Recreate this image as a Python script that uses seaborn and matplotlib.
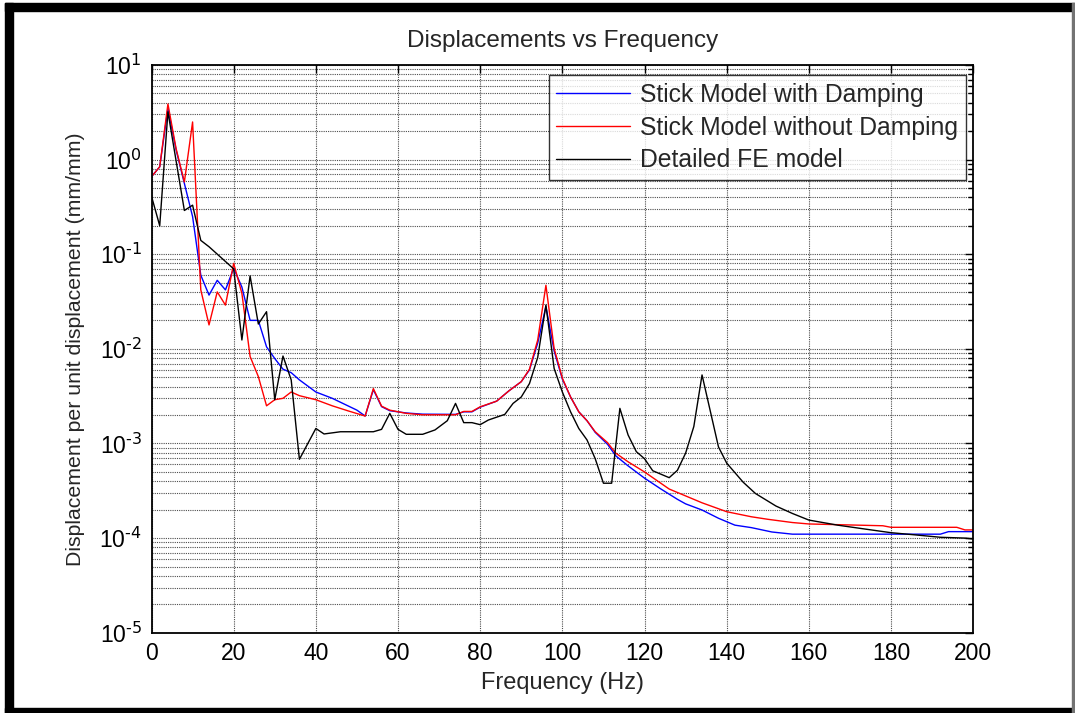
import math
import matplotlib
matplotlib.use("Agg")
import matplotlib.pyplot as plt
from matplotlib.patches import Rectangle
from matplotlib.ticker import FixedLocator, FuncFormatter, NullFormatter
import pandas as pd
import seaborn as sns

# Stick model with damping
freq_damped = [0, 2, 4, 6, 8, 10, 12, 14, 16, 18, 20, 22, 24, 26, 28, 30, 32, 34, 36, 40,
               44, 50, 52, 54, 56, 58, 62, 66, 74, 76, 78, 80, 84, 87, 90, 92, 94, 96, 98, 100,
               102, 104, 106, 108, 111, 113, 116, 120, 124, 128, 130, 134, 138, 142, 146, 151,
               156, 192, 194, 200]
disp_damped = [0.66, 0.84, 3.48, 1.26, 0.56, 0.25, 0.060, 0.037, 0.053, 0.042, 0.071, 0.045,
               0.020, 0.020, 0.0105, 0.0079, 0.0061, 0.0056, 0.0047, 0.0035, 0.0030, 0.00225,
               0.00195, 0.0037, 0.00245, 0.00222, 0.00210, 0.00204, 0.00203, 0.00216, 0.00216,
               0.00242, 0.0028, 0.0036, 0.0045, 0.0060, 0.0115, 0.028, 0.0095, 0.0048, 0.0031,
               0.00216, 0.00174, 0.00131, 0.00098, 0.00074, 0.00058, 0.00043, 0.00033, 0.000257,
               0.00023, 0.000198, 0.000162, 0.000137, 0.000129, 0.000116, 0.00011, 0.00011,
               0.000117, 0.000117]

# Stick model without damping
freq_undamped = [0, 2, 4, 6, 8, 10, 12, 14, 16, 18, 20, 22, 24, 26, 28, 30, 32, 34, 36, 40,
                 44, 48, 52, 54, 56, 58, 62, 66, 74, 76, 78, 80, 84, 87, 90, 92, 94, 96, 98, 100,
                 102, 104, 106, 108, 111, 113, 116, 120, 126, 134, 140, 146, 150, 156, 160, 178,
                 180, 196, 198, 200]
disp_undamped = [0.66, 0.84, 3.87, 1.3, 0.58, 2.5, 0.042, 0.0179, 0.040, 0.029, 0.080, 0.0386,
                 0.0083, 0.0051, 0.0025, 0.0029, 0.0030, 0.0035, 0.0032, 0.0029, 0.0025, 0.0022,
                 0.00195, 0.0038, 0.00248, 0.00225, 0.00208, 0.00201, 0.00201, 0.00218, 0.00218,
                 0.00244, 0.0028, 0.0036, 0.0045, 0.0061, 0.0124, 0.047, 0.0101, 0.0049, 0.0031,
                 0.00216, 0.00174, 0.00133, 0.00102, 0.00079, 0.00064, 0.0005, 0.00033, 0.000236,
                 0.00019, 0.000168, 0.000158, 0.000146, 0.000141, 0.000135, 0.00013, 0.00013,
                 0.000122, 0.000122]

# Detailed finite element model
freq_fe = [0, 2, 4, 8, 10, 12, 14, 20, 22, 24, 26, 28, 30, 32, 34, 36, 40, 42, 46, 54, 56, 58,
           60, 62, 66, 69, 72, 74, 76, 78, 80, 82, 86, 88, 90, 92, 94, 96, 98, 100, 102, 104, 106,
           108, 110, 112, 114, 116, 118, 120, 122, 126, 128, 130, 132, 134, 138, 140, 144, 147,
           152, 156, 160, 167, 174, 180, 186, 192, 198, 200]
disp_fe = [0.41, 0.20, 3.2, 0.29, 0.33, 0.14, 0.12, 0.070, 0.0124, 0.059, 0.0183, 0.0247, 0.0029,
           0.0084, 0.0047, 0.00068, 0.00144, 0.00126, 0.00133, 0.00133, 0.00141, 0.00208, 0.00141,
           0.00125, 0.00125, 0.00139, 0.00174, 0.00265, 0.00166, 0.00166, 0.00158, 0.00177,
           0.00203, 0.00265, 0.0031, 0.0043, 0.0081, 0.029, 0.0062, 0.0035, 0.00216, 0.00144,
           0.00109, 0.00069, 0.00038, 0.00038, 0.00235, 0.00123, 0.00082, 0.00069, 0.000515,
           0.000435, 0.00052, 0.00079, 0.00151, 0.0053, 0.00092, 0.00062, 0.00039, 0.000296,
           0.000218, 0.000182, 0.000155, 0.000137, 0.000124, 0.000114, 0.000108, 0.000102,
           0.0001, 0.0000977]

labels = ["Stick Model with Damping", "Stick Model without Damping", "Detailed FE model"]
colors = ["#0000ff", "#ff0000", "#000000"]
x_ticks = list(range(0, 201, 20))
y_exponents = [-5, -4, -3, -2, -1, 0, 1]

frames = []
for lab, f, d in zip(labels, [freq_damped, freq_undamped, freq_fe],
                     [disp_damped, disp_undamped, disp_fe]):
    frames.append(pd.DataFrame({"Frequency": f, "Displacement": d, "Model": lab}))
df = pd.concat(frames, ignore_index=True)

sns.set_theme(style="white")
plt.rcParams["font.family"] = ["Liberation Sans", "DejaVu Sans"]
plt.rcParams["mathtext.default"] = "regular"

fig = plt.figure(figsize=(10.75, 7.13), dpi=100)
ax = fig.add_axes([151.5 / 1075, 1 - 632.7 / 713, (973.2 - 151.5) / 1075, (632.7 - 65) / 713])

sns.lineplot(data=df, x="Frequency", y="Displacement", hue="Model", hue_order=labels,
             palette=dict(zip(labels, colors)), sort=False, estimator=None,
             linewidth=1.0, ax=ax)

ax.set_yscale("log")
ax.set_ylim(10.0 ** y_exponents[0], 10.0 ** y_exponents[-1])
ax.set_xlim(x_ticks[0], x_ticks[-1])
ax.set_xticks(x_ticks)
ax.xaxis.set_minor_locator(plt.NullLocator())

major_y = [10.0 ** e for e in y_exponents]
minor_y = [m * 10.0 ** e for e in y_exponents[:-1] for m in range(2, 10)]
ax.yaxis.set_major_locator(FixedLocator(major_y))
ax.yaxis.set_minor_locator(FixedLocator(minor_y))
ax.yaxis.set_minor_formatter(NullFormatter())


def decade_label(v, pos):
    e = int(round(math.log10(v)))
    return r"$10^{\text{%d}}$" % e


ax.yaxis.set_major_formatter(FuncFormatter(decade_label))

grid_kw = dict(color="0.3", linestyle=(0, (1, 1)), linewidth=0.8)
ax.grid(True, which="major", axis="both", **grid_kw)
ax.grid(True, which="minor", axis="y", **grid_kw)

ax.tick_params(which="both", direction="in", top=True, right=True, colors="black",
               labelsize=16.5, width=1.0)
ax.tick_params(which="major", length=6, pad=7)
ax.tick_params(which="minor", length=3.5)
for sp in ax.spines.values():
    sp.set_color("black")
    sp.set_linewidth(1.3)

ax.set_title("Displacements vs Frequency", fontsize=17.5, pad=13)
ax.set_xlabel("Frequency (Hz)", fontsize=17, labelpad=5)
ax.set_ylabel("Displacement per unit displacement (mm/mm)", fontsize=15.3, labelpad=10)

handles, labs = ax.get_legend_handles_labels()
leg = ax.legend(handles, labs, loc="upper right", bbox_to_anchor=(0.991, 0.982),
                borderaxespad=0, fontsize=17.8, frameon=True, fancybox=False,
                handlelength=3.0, handletextpad=0.4, labelspacing=0.36,
                borderpad=0.3)
leg.get_frame().set_edgecolor("black")
leg.get_frame().set_linewidth(1.0)

# Dark window border around the figure
W, H = 1075, 713
fig.patches.extend([
    Rectangle((5 / W, 0), 8 / W, 710 / H, transform=fig.transFigure, color="black", zorder=10),
    Rectangle((5 / W, 702 / H), 1070 / W, 8 / H, transform=fig.transFigure, color="black", zorder=10),
    Rectangle((5 / W, 0), 1070 / W, 5 / H, transform=fig.transFigure, color="black", zorder=10),
    Rectangle((1072 / W, 0), 2 / W, 710 / H, transform=fig.transFigure, color="0.45", zorder=10),
])

fig.savefig("out.png", dpi=100, facecolor="white")
